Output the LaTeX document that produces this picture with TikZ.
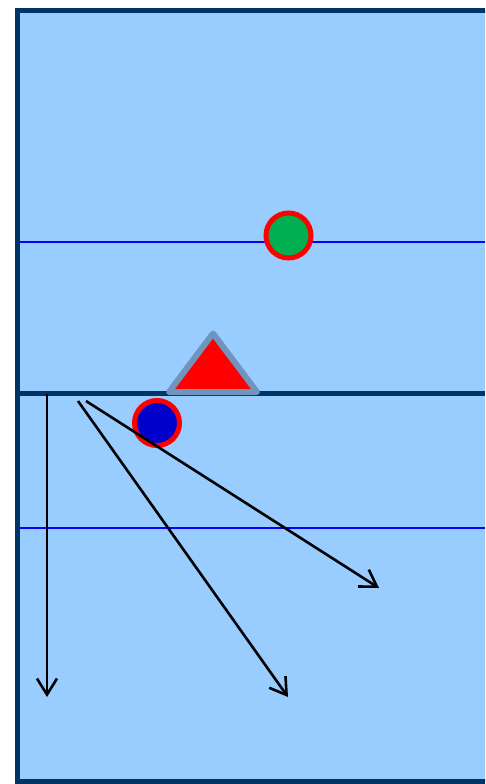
\documentclass[tikz,border=0pt]{standalone}
\usetikzlibrary{arrows.meta}
\definecolor{court}{HTML}{99CCFF}
\definecolor{navy}{HTML}{003366}
\definecolor{lineblue}{HTML}{0000FF}
\definecolor{gfill}{HTML}{00B050}
\definecolor{bfill}{HTML}{0000CC}
\definecolor{tri}{HTML}{7094BC}
\tikzset{
  thinline/.style={draw=lineblue, line width=2pt},
  player/.style={circle, draw=red, line width=5pt, minimum size=45pt, inner sep=0pt},
  move/.style={draw=black, line width=2.6pt, -{Straight Barb[length=16pt,width=20pt,line width=2.6pt]}},
}
\begin{document}
\begin{tikzpicture}[x=1pt,y=-1pt]
\useasboundingbox (0,0) rectangle (485,784);
\begin{scope}
\clip (0,0) rectangle (485,784);
\draw[navy, line width=5.5pt, fill=court] (17.5,10.5) rectangle (500,782);
\draw[thinline] (20,242) -- (485,242);
\draw[thinline] (20,528) -- (485,528);
\draw[navy, line width=5.5pt] (20,393.5) -- (485,393.5);
\end{scope}
\draw[tri, fill=red, line width=6pt, line join=round] (213,333.5) -- (257,392) -- (169,392) -- cycle;
\node[player, fill=gfill] (g) at (288.5,235.5) {};
\node[player, fill=bfill] (b) at (157,423) {};
\coordinate (s1) at (47,394);
\coordinate (e1) at (47,697);
\coordinate (s2) at (78,401);
\coordinate (e2) at (288,697);
\coordinate (s3) at (86,401);
\coordinate (e3) at (379,588);
\draw[move] (s1) -- (e1);
\draw[move] (s2) -- (e2);
\draw[move] (s3) -- (e3);
\end{tikzpicture}
\end{document}
